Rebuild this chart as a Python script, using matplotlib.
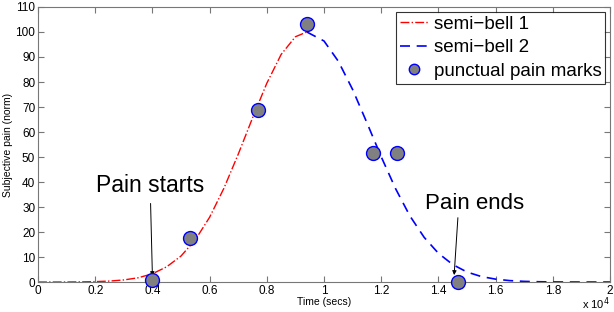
import numpy as np
import matplotlib
matplotlib.use('Agg')
import matplotlib.pyplot as plt

plt.rcParams['font.family'] = ['Liberation Sans', 'DejaVu Sans']

# time axis in units of 1e4 seconds
bell1_t = [0.0, 0.05, 0.1, 0.15, 0.2, 0.25, 0.3, 0.35, 0.4, 0.45, 0.5,
           0.55, 0.6, 0.65, 0.7, 0.75, 0.8, 0.85, 0.9, 0.94]
bell1_y = [0.0, 0.01, 0.03, 0.07, 0.17, 0.39, 0.84, 1.7, 3.3, 6.1, 10.4,
           16.9, 25.9, 37.5, 51.1, 65.6, 79.5, 91.0, 98.1, 100.0]

bell2_t = [0.94, 1.0, 1.05, 1.1, 1.15, 1.2, 1.25, 1.3, 1.35, 1.4, 1.45,
           1.5, 1.55, 1.6, 1.65, 1.7, 1.75, 1.8, 1.85, 1.9, 2.0]
bell2_y = [100.0, 96.4, 88.3, 77.0, 63.7, 50.1, 37.4, 26.5, 17.9, 11.5, 7.0,
           4.0, 2.2, 1.16, 0.57, 0.27, 0.12, 0.05, 0.02, 0.01, 0.0]

marks_t = [0.40, 0.53, 0.77, 0.94, 1.17, 1.255, 1.47]
marks_y = [0.8, 17.6, 68.8, 103.2, 51.6, 51.6, 0.0]

xticks = [0, 0.2, 0.4, 0.6, 0.8, 1, 1.2, 1.4, 1.6, 1.8, 2]
xticklabels = ['0', '0.2', '0.4', '0.6', '0.8', '1', '1.2', '1.4', '1.6', '1.8', '2']
yticks = list(range(0, 111, 10))

fig = plt.figure(figsize=(6.14, 3.12), dpi=100)
ax = fig.add_axes([0.0619, 0.096, 0.9316, 0.8816])

ax.plot(bell1_t, bell1_y, color='red', linestyle='-.', linewidth=1.0,
        label='semi\u2212bell 1')
ax.plot(bell2_t, bell2_y, color='blue', linestyle=(0, (6, 4)), linewidth=1.2,
        label='semi\u2212bell 2')
ax.plot(marks_t, marks_y, linestyle='none', marker='o', markersize=10,
        markerfacecolor='#808080', markeredgecolor='blue', markeredgewidth=1.0,
        label='punctual pain marks', clip_on=False, zorder=5)

ax.set_xlim(0, 2)
ax.set_ylim(0, 110)
ax.set_xticks(xticks)
ax.set_xticklabels(xticklabels)
ax.set_yticks(yticks)
ax.tick_params(direction='in', top=True, right=True, labelsize=8.5, length=4,
               pad=2, colors='#777777', labelcolor='black')
for s in ax.spines.values():
    s.set_color('#777777')
    s.set_linewidth(0.8)

ax.set_xlabel('Time (secs)', fontsize=7.5, labelpad=0)
ax.set_ylabel('Subjective pain (norm)', fontsize=7.5, labelpad=2)
ax.text(1.0, -0.08, 'x 10$^4$', transform=ax.transAxes, ha='right', va='center',
        fontsize=8)

ax.annotate('Pain starts', xy=(0.40, 2.4), xytext=(0.393, 38.8),
            ha='center', va='center', fontsize=16.5,
            arrowprops=dict(arrowstyle='-|>', color='black', lw=0.7,
                            mutation_scale=6, shrinkA=3, shrinkB=0,
                            relpos=(0.5, 0.0)))
ax.annotate('Pain ends', xy=(1.455, 2.8), xytext=(1.528, 31.6),
            ha='center', va='center', fontsize=16,
            arrowprops=dict(arrowstyle='-|>', color='black', lw=0.7,
                            mutation_scale=6, shrinkA=1, shrinkB=0,
                            relpos=(0.33, 0.0)))

leg = ax.legend(loc='upper right', fontsize=13.5, frameon=True, fancybox=False,
                borderpad=0.2, labelspacing=0.35, handlelength=1.5,
                handletextpad=0.3, borderaxespad=0.25, numpoints=1,
                markerscale=0.75)
leg.get_frame().set_edgecolor('black')
leg.get_frame().set_linewidth(0.8)

fig.savefig('out.png', dpi=100)
